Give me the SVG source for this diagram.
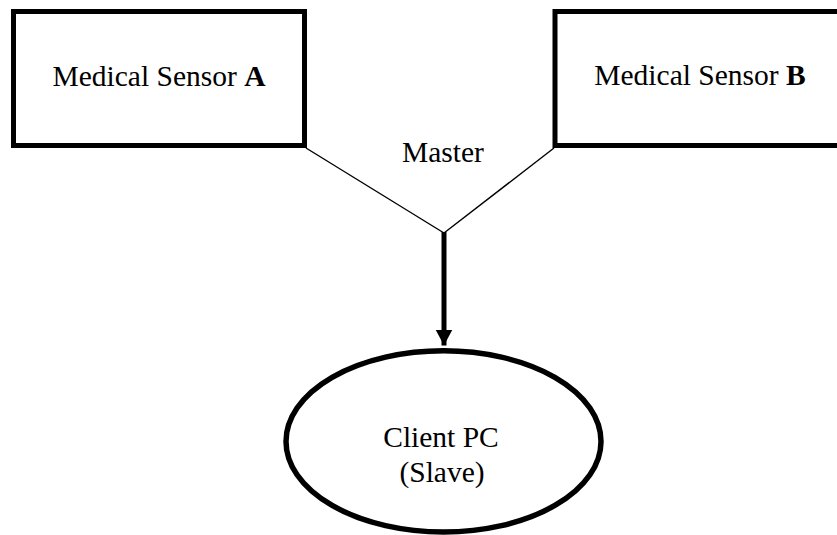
<svg xmlns="http://www.w3.org/2000/svg" width="837" height="535" viewBox="0 0 837 535">
  <style>
    .box { fill: #ffffff; stroke: #000000; stroke-width: 5; }
    .oval { fill: #ffffff; stroke: #000000; stroke-width: 5.5; }
    .label { font-family: "Liberation Serif", "Times New Roman", serif; font-size: 29.5px; fill: #000000; text-anchor: middle; }
    .thin { fill: none; stroke: #000000; stroke-width: 1.4; }
    .thick { fill: none; stroke: #000000; stroke-width: 5; }
  </style>
  <defs>
    <marker id="arrowhead" markerUnits="userSpaceOnUse" markerWidth="18" markerHeight="18" refX="16" refY="8.5" orient="auto">
      <path d="M0,0 L16,8.5 L0,17 Z" fill="#000000"/>
    </marker>
  </defs>
  <rect width="837" height="535" fill="#ffffff"/>

  <g id="connectors">
    <line class="thin" x1="306" y1="148" x2="444" y2="233"/>
    <line class="thin" x1="554" y1="148" x2="444" y2="233"/>
    <line class="thick" x1="444" y1="232" x2="444" y2="345.5" marker-end="url(#arrowhead)"/>
    <text class="label" x="443" y="162">Master</text>
  </g>

  <g id="sensor-a">
    <rect class="box" x="13.5" y="11.5" width="291" height="134"/>
    <text class="label" x="159" y="85.5">Medical Sensor <tspan font-weight="bold">A</tspan></text>
  </g>

  <g id="sensor-b">
    <rect class="box" x="555" y="11.5" width="292" height="134"/>
    <text class="label" x="700" y="84.5">Medical Sensor <tspan font-weight="bold">B</tspan></text>
  </g>

  <g id="client-pc">
    <ellipse class="oval" cx="443.5" cy="441.4" rx="157.5" ry="90.6"/>
    <text class="label" x="441" y="447.3">Client PC</text>
    <text class="label" x="442" y="481.7">(Slave)</text>
  </g>
</svg>
